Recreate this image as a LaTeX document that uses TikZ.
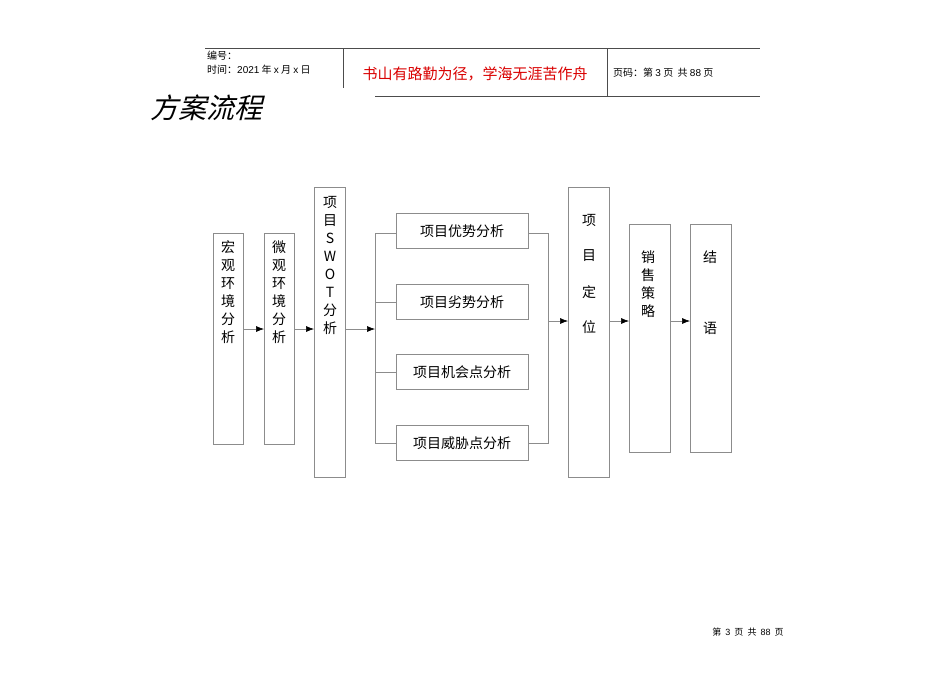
\documentclass[tikz,border=0pt]{standalone}
\usepackage{fontspec}
\setmainfont{Noto Sans CJK SC}
\newfontfamily\lat{Liberation Sans}
\usetikzlibrary{arrows.meta}
\begin{document}
\begin{tikzpicture}[x=1pt,y=-1pt,
  bx/.style={draw=black!45,line width=0.6pt,inner sep=0pt},
  ln/.style={draw=black!45,line width=0.6pt},
  arr/.style={ln,-{Latex[length=8pt,width=6pt,black]}},
  t/.style={font=\fontsize{14}{18}\selectfont,align=center,inner sep=0pt}]
\useasboundingbox (0,0) rectangle (950,672);
% header
\draw[black!70,line width=0.6pt] (205,48) -- (760,48);
\draw[black!70,line width=0.6pt] (375,96) -- (760,96);
\draw[black!70,line width=0.6pt] (343,48) -- (343,88);
\draw[black!70,line width=0.6pt] (607,48) -- (607,96);
\node[anchor=west,inner sep=0,font=\fontsize{10}{12}\selectfont] (h1) at (207,56) {编号：};
\node[anchor=west,inner sep=0,font=\fontsize{10}{12}\selectfont] (h2) at (207,70) {时间：{\lat 2021} 年 {\lat x} 月 {\lat x} 日};
\node[inner sep=0,text=red!85!black,font=\fontsize{15}{17}\selectfont] (h3) at (475,74) {书山有路勤为径，学海无涯苦作舟};
\node[anchor=west,inner sep=0,font=\fontsize{10}{12}\selectfont] (h4) at (613,73) {页码：第 {\lat 3} 页 \ 共 {\lat 88} 页};
\node[anchor=west,inner sep=0,font=\fontsize{28}{32}\selectfont,xslant=0.25] (title) at (153,108) {方案流程};
% boxes
\draw[bx] (213,233) rectangle (243,444);
\node[t] (b1) at (228,292) {宏\\观\\环\\境\\分\\析};
\draw[bx] (264,233) rectangle (294,444);
\node[t] (b2) at (279,292) {微\\观\\环\\境\\分\\析};
\draw[bx] (314,187) rectangle (345,477);
\node[t] (b3) at (330,265) {项\\目\\S\\W\\O\\T\\分\\析};
\coordinate (a1s) at (243,329); \coordinate (a1e) at (264,329);
\coordinate (a2s) at (294,329); \coordinate (a2e) at (314,329);
\coordinate (a3s) at (345,329); \coordinate (a3e) at (375,329);
\draw[arr] (a1s) -- (a1e);
\draw[arr] (a2s) -- (a2e);
\draw[arr] (a3s) -- (a3e);
\draw[ln] (375,233) -- (375,443);
\foreach \y/\txt/\n in {231/项目优势分析/s1,302/项目劣势分析/s2,372/项目机会点分析/s3,443/项目威胁点分析/s4}{
  \node[bx,minimum width=132pt,minimum height=35pt,font=\fontsize{14}{17}\selectfont] (\n) at (462,\y) {\txt};
}
\draw[ln] (375,233) -- (396,233);
\draw[ln] (375,302) -- (s2.west);
\draw[ln] (375,372) -- (s3.west);
\draw[ln] (375,443) -- (s4.west);
\draw[ln] (528,233) -- (548,233) -- (548,443) -- (528,443);
\draw[bx] (568,187) rectangle (609,477);
\node[t] at (589,220) {项};
\node[t] at (589,256) {目};
\node[t] at (589,292) {定};
\node[t] at (589,327) {位};
\draw[arr] (548,321) -- (568,321);
\draw[arr] (609,321) -- (629,321);
\draw[bx] (629,224) rectangle (670,452);
\node[t] (b5) at (648,284) {销\\售\\策\\略};
\draw[arr] (670,321) -- (690,321);
\draw[bx] (690,224) rectangle (731,452);
\node[t] at (710,257) {结};
\node[t] at (710,328) {语};
\node[inner sep=0,font=\fontsize{9}{11}\selectfont] (ft) at (748,632) {第 \ {\lat 3} \ 页 \ 共 \ {\lat 88} \ 页};
\end{tikzpicture}
\end{document}
